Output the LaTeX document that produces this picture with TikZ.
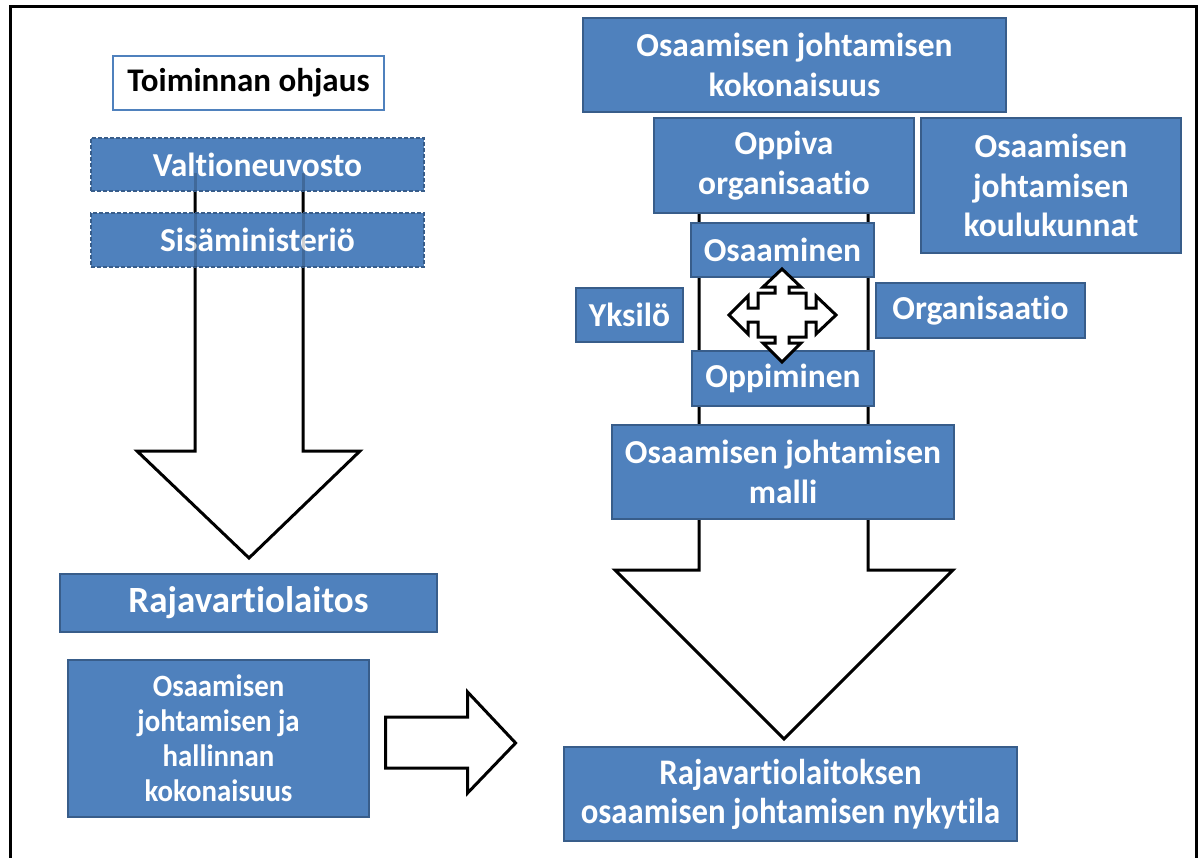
\documentclass[tikz,border=0pt]{standalone}
\usepackage{fontspec}
\setmainfont{Carlito}[Ligatures=NoCommon]
\newfontfamily\condfont{Carlito}[Ligatures=NoCommon,FakeStretch=0.93]
\newfontfamily\condfontb{Carlito}[Ligatures=NoCommon,FakeStretch=0.91]
\definecolor{boxblue}{HTML}{4F81BD}
\definecolor{boxedge}{HTML}{385D8A}
\begin{document}
\begin{tikzpicture}[x=1pt,y=-1pt,
  bbox/.style={draw=boxedge,line width=1.2pt,fill=boxblue,text=white,inner sep=0pt,align=center,font=\bfseries\fontsize{33.5}{39.5}\selectfont},
  dbox/.style={bbox,dash pattern=on 4pt off 2pt},
  wbox/.style={draw=boxblue,line width=1.2pt,fill=white,text=black,inner sep=0pt,align=center,font=\bfseries\fontsize{33}{38}\selectfont},
  blockarrow/.style={draw=black,line width=3pt,fill=white,line join=miter},
  ghost/.style={line width=3pt,draw=black,draw opacity=0.18}
]
\useasboundingbox (0,0) rectangle (1202,857);
\fill[white] (0,0) rectangle (1202,857);
% frame
\draw[line width=3pt] (10,860) -- (10,6) -- (1196,6) -- (1196,860);

% big left arrow (behind boxes)
\draw[blockarrow] (195,173) -- (303,173) -- (303,451) -- (360,451) -- (249,558) -- (137,451) -- (195,451) -- cycle;
% big right arrow
\draw[blockarrow] (699,150) -- (868,150) -- (868,570) -- (953,570) -- (784,739) -- (615,570) -- (699,570) -- cycle;

% left column
\node[wbox,minimum width=271,minimum height=54] (toim) at (248.5,83) {Toiminnan ohjaus};
\node[dbox,minimum width=333,minimum height=53] (valt) at (257.5,164.5) {Valtioneuvosto};
\node[dbox,minimum width=333,minimum height=54] (sisa) at (257.5,240) {Sisäministeriö};
\draw[ghost] (195,173) -- (195,191) (303,173) -- (303,191);
\draw[ghost] (195,213) -- (195,267) (303,213) -- (303,267);
\node[bbox,minimum width=377,minimum height=58,font=\bfseries\fontsize{37}{42}\selectfont] (raja) at (248.5,603) {Rajavartiolaitos};
\node[bbox,minimum width=301,minimum height=157,font=\condfont\bfseries\fontsize{31}{35}\selectfont] (okok) at (218.5,738.5) {Osaamisen\\johtamisen ja\\hallinnan\\kokonaisuus};

% right column
\node[bbox,minimum width=423,minimum height=94] (ojk) at (794.5,65) {Osaamisen johtamisen\\kokonaisuus};
\node[bbox,minimum width=260,minimum height=95] (oppiva) at (784,165.5) {Oppiva\\organisaatio};
\node[bbox,minimum width=260,minimum height=135] (koulu) at (1051,185.5) {Osaamisen\\johtamisen\\koulukunnat};
\node[bbox,minimum width=183,minimum height=54] (osaam) at (782.5,250) {Osaaminen};
\node[bbox,minimum width=107,minimum height=54] (yksi) at (629.5,315) {Yksilö};
\node[bbox,minimum width=209,minimum height=55] (orga) at (980.5,310.5) {Organisaatio};
\node[bbox,minimum width=182,minimum height=55] (oppim) at (783,378.5) {Oppiminen};
\node[bbox,minimum width=342,minimum height=94] (malli) at (783,472) {Osaamisen johtamisen\\malli};
\node[bbox,minimum width=453,minimum height=94,font=\condfontb\bfseries\fontsize{36}{39}\selectfont] (nyky) at (790.5,794) {Rajavartiolaitoksen\\osaamisen johtamisen nykytila};

% quad arrow (callout style)
\begin{scope}[shift={(782,315)}]
\draw[black,line width=3pt,fill=white,line join=miter]
  (-53,0) -- (-34,-19) -- (-34,-7) -- (-24,-7) -- (-24,-22) -- (-7,-22) -- (-7,-28) -- (-19,-28)
  -- (0,-46) -- (19,-28) -- (7,-28) -- (7,-22) -- (24,-22) -- (24,-7) -- (34,-7) -- (34,-19)
  -- (54,0) -- (34,19) -- (34,7) -- (24,7) -- (24,22) -- (7,22) -- (7,28) -- (19,28)
  -- (0,47) -- (-19,28) -- (-7,28) -- (-7,22) -- (-24,22) -- (-24,7) -- (-34,7) -- (-34,19) -- cycle;
\end{scope}

% right block arrow
\draw[blockarrow] (okok.east) ++(16,-21.5) -- ++(82,0) -- ++(0,-25) -- ++(48,51) -- ++(-48,50) -- ++(0,-25) -- ++(-82,0) -- cycle;
\end{tikzpicture}
\end{document}
